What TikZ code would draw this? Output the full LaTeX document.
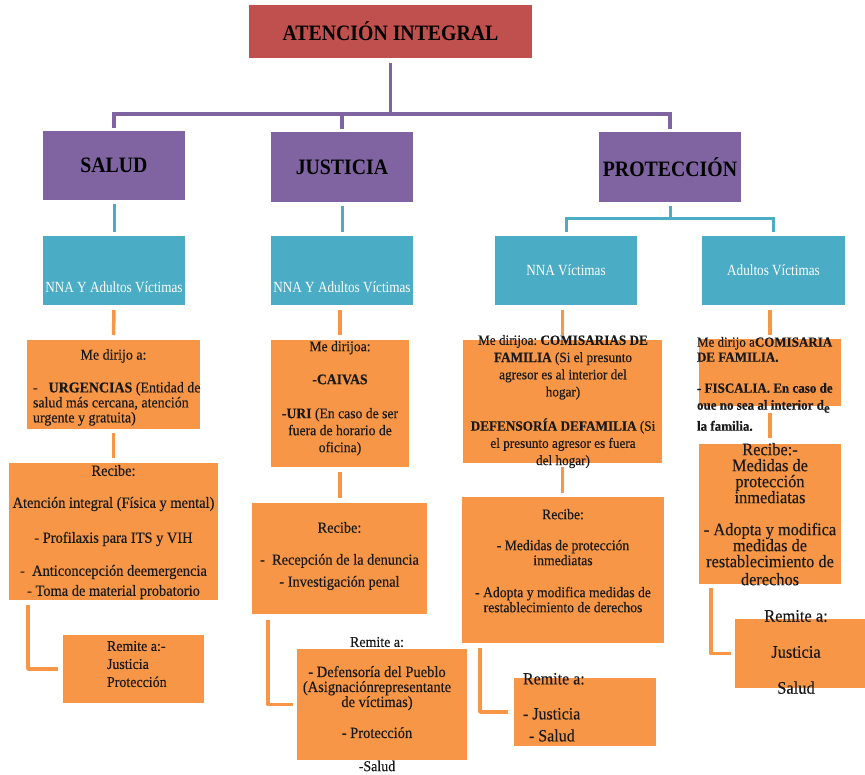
\documentclass[tikz,border=0pt]{standalone}
\usepackage{fontspec}
\setmainfont[FakeStretch=0.93,FakeBold=0.3]{Liberation Serif}
\newfontfamily\headf[FakeStretch=0.9]{Liberation Serif}
\newfontfamily\cyf[FakeStretch=0.85]{Liberation Serif}
\definecolor{redc}{HTML}{C0504D}
\definecolor{purc}{HTML}{8064A2}
\definecolor{cyanc}{HTML}{4BACC6}
\definecolor{orac}{HTML}{F79646}
\newcommand{\fsz}[2]{\fontsize{#1}{#2}\selectfont\frenchspacing\lineskiplimit=-30pt\lineskip=0pt}
\begin{document}
\begin{tikzpicture}[x=1pt,y=-1pt,
  box/.style={draw=none, inner sep=0pt, outer sep=0pt},
  rbox/.style={box, fill=redc, font=\headf\bfseries\fsz{22}{26}},
  pbox/.style={box, fill=purc, font=\headf\bfseries\fsz{22}{26}},
  cbox/.style={box, fill=cyanc, text=white, font=\cyf\fsz{15.5}{18}},
  obox/.style={box, fill=orac},
  pline/.style={draw=purc, line width=3.5pt},
  cline/.style={draw=cyanc, line width=3pt},
  oline/.style={draw=orac, line width=3.5pt, line join=round},
  wtxt/.style={inner sep=0pt, outer sep=0pt, text=white, font=\cyf\fsz{15.5}{18}},
  btxt/.style={inner sep=0pt, outer sep=0pt, text=black!90, font=\fsz{15}{15}},
]
\useasboundingbox (0,0) rectangle (865,774);

% ---------- boxes ----------
\node[rbox, minimum width=283pt, minimum height=53pt] (title) at (390.5,31.5) {ATENCIÓN INTEGRAL};
\node[pbox, minimum width=142pt, minimum height=69pt] (salud) at (114,165.5) {SALUD};
\node[pbox, minimum width=142pt, minimum height=70pt] (just) at (342,167) {JUSTICIA};
\node[pbox, minimum width=142pt, minimum height=70pt] (prot) at (670,167) {PROTECCIÓN};

\node[cbox, minimum width=142pt, minimum height=69pt] (c1) at (114,270.5) {};
\node[cbox, minimum width=142pt, minimum height=69pt] (c2) at (342,270.5) {};
\node[cbox, minimum width=142pt, minimum height=69pt] (c3) at (566,270.5) {NNA Víctimas};
\node[cbox, minimum width=143pt, minimum height=69pt] (c4) at (773.5,270.5) {Adultos Víctimas};

\node[obox, minimum width=173pt, minimum height=89pt] (m1) at (113.5,384.5) {};
\node[obox, minimum width=209pt, minimum height=137pt] (r1) at (113.5,531.5) {};
\node[obox, minimum width=141pt, minimum height=68pt] (e1) at (133.5,669) {};

\node[obox, minimum width=138pt, minimum height=127pt] (m2) at (340,403.5) {};
\node[obox, minimum width=175pt, minimum height=111pt] (r2) at (339.5,558.5) {};
\node[obox, minimum width=170pt, minimum height=111pt] (e2) at (382,704.5) {};

\node[obox, minimum width=199pt, minimum height=123pt] (m3) at (562.5,401.5) {};
\node[obox, minimum width=202pt, minimum height=146pt] (r3) at (563,570) {};
\node[obox, minimum width=142pt, minimum height=68pt] (e3) at (585,712) {};

\node[obox, minimum width=142pt, minimum height=67pt] (m4) at (770,372.5) {};
\node[obox, minimum width=142pt, minimum height=140pt] (r4) at (770,514) {};
\node[obox, minimum width=130pt, minimum height=69pt] (e4) at (800,653.5) {};

% ---------- connectors ----------
\coordinate (pj) at (390.5,114);
\draw[pline, shorten <=5pt] (title.south) -- (pj);
\draw[pline, shorten <=3pt, shorten >=3pt] (salud.north) |- (pj) -| (prot.north);
\draw[pline, shorten >=3pt] (pj -| just.north) -- (just.north);

\draw[cline, shorten <=4pt, shorten >=4pt] (salud.south) -- (c1.north);
\draw[cline, shorten <=4pt, shorten >=4pt] (just.south) -- (c2.north);
\coordinate (pc) at (670,218);
\draw[cline, shorten <=4pt] (prot.south) -- (pc);
\draw[cline, shorten <=4pt, shorten >=4pt] (c3.north) |- (pc) -| (c4.north);

\draw[oline, shorten <=5pt, shorten >=5pt] (c1.south) -- (m1.north);
\draw[oline, shorten <=4pt, shorten >=5pt] (m1.south) -- (r1.north);
\draw[oline, shorten <=5pt, shorten >=5pt] (c2.south -| m2.north) -- (m2.north);
\draw[oline, shorten <=5pt, shorten >=5pt] (m2.south) -- (r2.north -| m2.south);
\draw[oline, shorten <=5pt, shorten >=5pt] (c3.south -| m3.north) -- (m3.north);
\draw[oline, shorten <=4pt, shorten >=4pt] (m3.south) -- (r3.north -| m3.south);
\draw[oline, shorten <=5pt, shorten >=4pt] (c4.south -| m4.north) -- (m4.north);
\draw[oline, shorten <=7pt, shorten >=6pt] (m4.south) -- (r4.north);

\draw[oline, shorten <=5pt, shorten >=5pt] ([xshift=19pt]r1.south west) |- (e1.west);
\draw[oline, shorten <=6pt, shorten >=4pt] ([xshift=16pt]r2.south west) |- (e2.west);
\draw[oline, shorten <=5pt, shorten >=6pt] ([xshift=18pt]r3.south west) |- (e3.west);
\draw[oline, shorten <=4pt, shorten >=4pt] ([xshift=12pt]r4.south west) |- (e4.west);

% ---------- texts ----------
\node[wtxt] (t1) at (114,287) {NNA Y Adultos Víctimas};
\node[wtxt] (t2) at (342,287) {NNA Y Adultos Víctimas};

\node[btxt] (m1a) at (113.5,356) {Me dirijo a:};
\node[btxt, anchor=north west, align=left] (m1b) at (33,382)
  {-\enspace\ \textbf{URGENCIAS} (Entidad de\\salud más cercana, atención\\urgente y gratuita)};

\node[btxt, anchor=north west, align=center, font=\fsz{14.7}{17}] (m2t) at (271,341)
  {\makebox[138pt]{Me dirijoa:}\\[16pt]\textbf{-CAIVAS}\\[17pt]\textbf{-URI} (En caso de ser\\fuera de horario de\\oficina)};

\node[btxt, anchor=north, align=center, font=\fsz{14.2}{17.2}] (m3t) at (563,335)
  {Me dirijoa: \textbf{COMISARIAS DE}\\\textbf{FAMILIA} (Si el presunto\\agresor es al interior del\\hogar)\\[17pt]\textbf{DEFENSORÍA DEFAMILIA} (Si\\el presunto agresor es fuera\\del hogar)};

\node[btxt, anchor=north west, align=left, font=\fsz{14}{16}] (m4t) at (697,337)
  {Me dirijo a\textbf{COMISARIA}\\[-1pt]\textbf{DE FAMILIA.}\\[15pt]\textbf{- FISCALIA. En caso de}\\[1pt]\textbf{oue no sea al interior d}\raisebox{-3pt}{\textbf{e}}\\[5pt]\textbf{la familia.}};

\node[btxt, anchor=north, align=center, font=\fsz{15.5}{17}] (r1t) at (113.5,465)
  {Recibe:\\[15pt]Atención integral (Física y mental)\\[18pt]- Profilaxis para ITS y VIH\\[16pt]-\ \ Anticoncepción deemergencia\\[3pt]- Toma de material probatorio};

\node[btxt, anchor=north, align=center, font=\fsz{15.4}{21}] (r2t) at (339.5,522)
  {Recibe:\\[11pt]-\ \ Recepción de la denuncia\\[1pt]- Investigación penal};

\node[btxt, anchor=north, align=center, font=\fsz{14.7}{15}] (r3t) at (563,509)
  {Recibe:\\[16pt]- Medidas de protección\\inmediatas\\[17pt]- Adopta y modifica medidas de\\restablecimiento de derechos};

\node[btxt, anchor=north, align=center, font=\fsz{17.6}{16}] (r4t) at (770,443)
  {Recibe:-\\Medidas de\\protección\\inmediatas\\[16pt]- Adopta y modifica\\medidas de\\restablecimiento de\\[2pt]derechos};

\node[btxt, anchor=north west, align=left, font=\fsz{15}{18}] (e1t) at (107,641)
  {Remite a:-\\Justicia\\Protección};

\node[btxt, font=\fsz{15}{15}] (e2h) at (377,642) {Remite a:};
\node[btxt, anchor=north, align=center, font=\fsz{15.6}{15}] (e2t) at (377,666)
  {- Defensoría del Pueblo\\(Asignaciónrepresentante\\de víctimas)\\[16pt]- Protección};
\node[btxt, font=\fsz{15}{15}] (e2s) at (377,766) {-Salud};

\node[btxt, anchor=north west, align=left, font=\fsz{17.2}{22}] (e3t) at (523,673)
  {Remite a:\\[13pt]- Justicia\\\hspace*{6pt}- Salud};

\node[btxt, anchor=north, align=center, font=\fsz{17.7}{36}] (e4t) at (796,610)
  {Remite a:\\Justicia\\Salud};
\end{tikzpicture}
\end{document}
